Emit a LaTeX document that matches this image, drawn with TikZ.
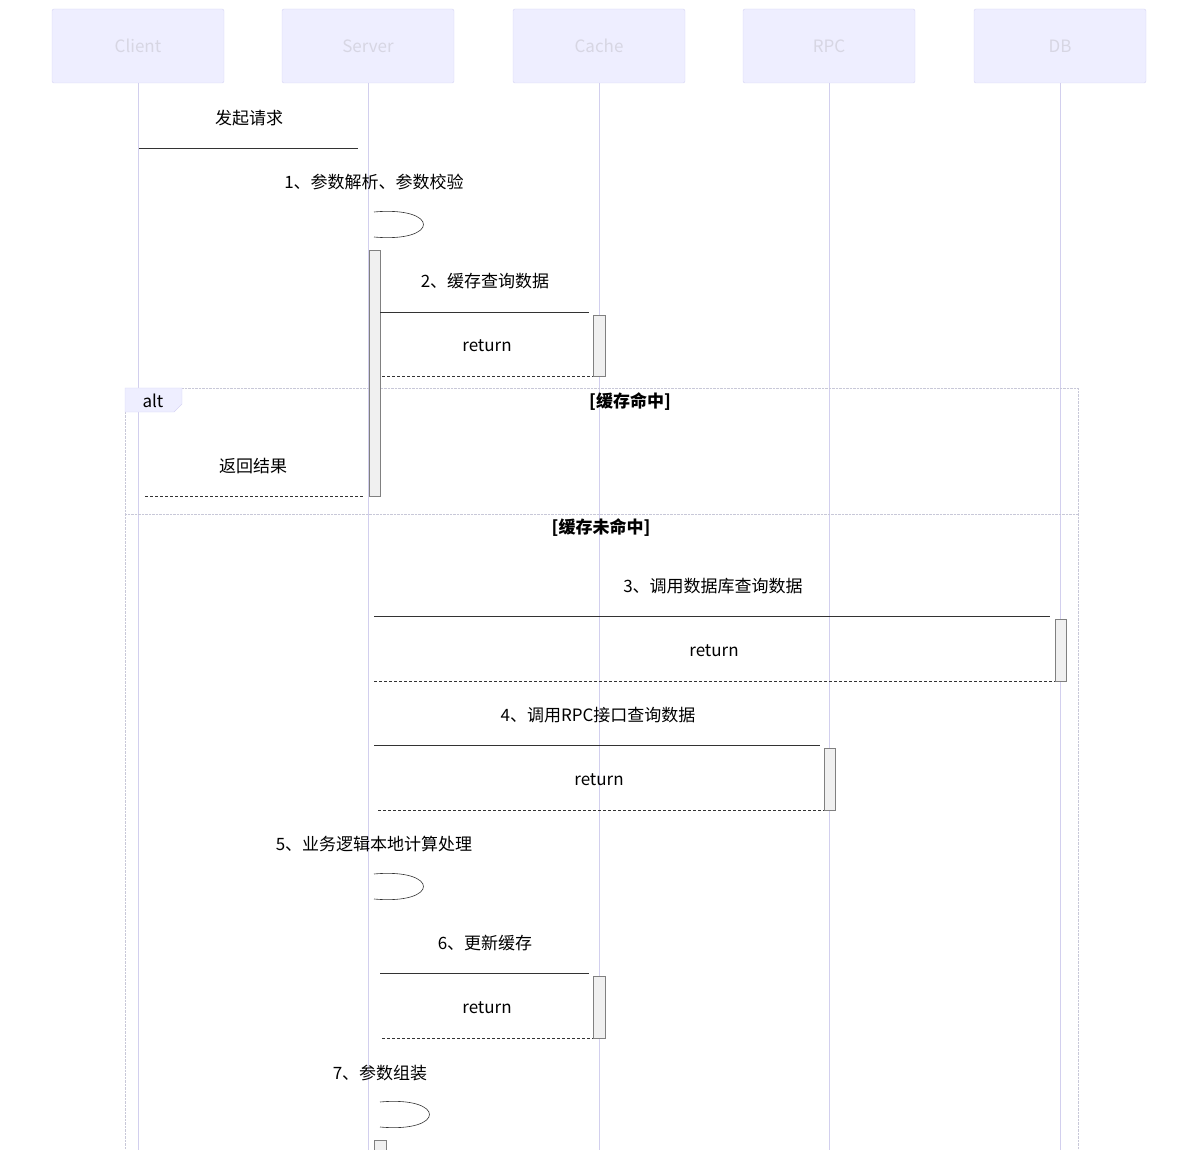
\documentclass[tikz,border=0pt]{standalone}
\usepackage{fontspec}
\setmainfont{Noto Sans CJK SC}
\usetikzlibrary{positioning,calc}
\definecolor{actfill}{HTML}{EEEEFF}
\definecolor{actline}{HTML}{D6D4F4}
\definecolor{lifeline}{HTML}{D2CFEE}
\definecolor{frameline}{HTML}{C8C8D8}
\tikzset{
actor/.style={draw=actline,fill=actfill,rounded corners=2pt,minimum width=172pt,minimum height=74pt,text=actline!70!gray!60,font=\fontsize{17}{20}\selectfont},
msg/.style={font=\fontsize{17}{20}\selectfont},
call/.style={draw=black!80,semithick},
reply/.style={draw=black!80,semithick,dash pattern=on 3pt off 2pt},
activ/.style={draw=black!50,fill=black!6},
loopline/.style={draw=black!80,semithick}
}
\begin{document}
\begin{tikzpicture}[x=1pt,y=-1pt]
	\useasboundingbox (0,0) rectangle (1200,1150);
	% actors
	\foreach \n/\x/\t in {cl/138/Client,sv/368/Server,ca/599/Cache,rp/829/RPC,db/1060/DB}{
		\node[actor] (\n) at (\x,46) {\t};
		\draw[lifeline,semithick] (\n.south) -- (\x,1150);
	}
	% alt frame
	\draw[frameline,densely dotted] (125,1150) -- (125,388) -- (1078,388) -- (1078,1150);
	\draw[frameline,densely dotted] (125,514) -- (1078,514);
	\draw[actline,fill=actfill] (125,388) -- (182,388) -- (182,404) -- (174,412) -- (125,412) -- cycle;
	\node[msg] (alt) at (153,401) {alt};
	\node[msg,font=\bfseries\fontsize{17}{20}\selectfont] (hit) at (630,402) {[缓存命中]};
	\node[msg,font=\bfseries\fontsize{17}{20}\selectfont] (miss) at (601,528) {[缓存未命中]};
	% activations
	\draw[activ] (369,250) rectangle (380,496);
	\draw[activ] (593,315) rectangle (605,376);
	\draw[activ] (1055,619) rectangle (1066,681);
	\draw[activ] (824,748) rectangle (835,810);
	\draw[activ] (593,976) rectangle (605,1038);
	\draw[activ] (374,1140) rectangle (386,1152);
	% messages
	\node[msg] (m0) at (249,118) {发起请求};
	\draw[call] (139,148) -- (358,148);
	\node[msg] (m1) at (374,182) {1、参数解析、参数校验};
	\draw[loopline] (374,212) .. controls (440,206) and (440,243) .. (374,237);
	\node[msg] (m2) at (485,281) {2、缓存查询数据};
	\draw[call] (380,312) -- (589,312);
	\node[msg] (r2) at (487,346) {return};
	\draw[reply] (382,376) -- (593,376);
	\node[msg] (m2b) at (253,466) {返回结果};
	\draw[reply] (145,496) -- (363,496);
	\node[msg] (m3) at (713,586) {3、调用数据库查询数据};
	\draw[call] (374,616) -- (1050,616);
	\node[msg] (r3) at (714,651) {return};
	\draw[reply] (374,681) -- (1055,681);
	\node[msg] (m4) at (598,715) {4、调用RPC接口查询数据};
	\draw[call] (374,745) -- (820,745);
	\node[msg] (r4) at (599,780) {return};
	\draw[reply] (378,810) -- (824,810);
	\node[msg] (m5) at (374,844) {5、业务逻辑本地计算处理};
	\draw[loopline] (374,874) .. controls (440,868) and (440,905) .. (374,899);
	\node[msg] (m6) at (485,943) {6、更新缓存};
	\draw[call] (380,973) -- (589,973);
	\node[msg] (r6) at (487,1008) {return};
	\draw[reply] (382,1038) -- (593,1038);
	\node[msg] (m7) at (380,1073) {7、参数组装};
	\draw[loopline] (380,1102) .. controls (446,1096) and (446,1133) .. (380,1127);
\end{tikzpicture}
\end{document}
